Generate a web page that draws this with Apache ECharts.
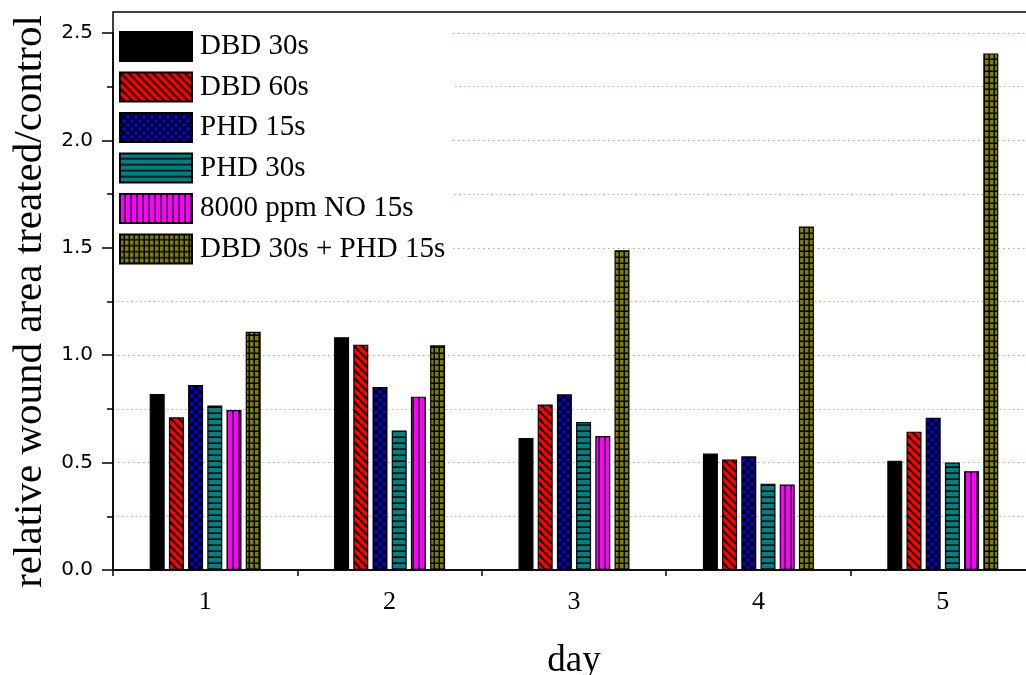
<!DOCTYPE html>
<html>
<head>
<meta charset="utf-8">
<script src="https://cdn.jsdelivr.net/npm/echarts@6/dist/echarts.min.js"></script>
<style>
  html, body { margin: 0; padding: 0; background: #fff; }
  #chart { width: 1026px; height: 675px; }
</style>
</head>
<body>
<div id="chart"></div>
<script>
// Days of measurement
const days = ['1', '2', '3', '4', '5'];

// Relative wound area (treated / control) per treatment
const dbd30 = [0.819, 1.084, 0.614, 0.542, 0.509];
const dbd60 = [0.711, 1.049, 0.771, 0.515, 0.644];
const phd15 = [0.861, 0.852, 0.818, 0.529, 0.709];
const phd30 = [0.766, 0.649, 0.689, 0.402, 0.500];
const no15 = [0.745, 0.807, 0.624, 0.398, 0.460];
const dbd30phd15 = [1.109, 1.046, 1.489, 1.599, 2.405];

const seriesNames = ['DBD 30s', 'DBD 60s', 'PHD 15s', 'PHD 30s', '8000 ppm NO 15s', 'DBD 30s + PHD 15s'];

// Hatch tiles used as bar fills
function tile(w, h, bg, draw) {
  const c = document.createElement('canvas');
  c.width = w; c.height = h;
  const g = c.getContext('2d');
  g.fillStyle = bg;
  g.fillRect(0, 0, w, h);
  g.strokeStyle = '#000';
  g.fillStyle = '#000';
  draw(g, w, h);
  return { image: c, repeat: 'repeat' };
}
function diag(g, s, dir) {
  for (let k = -1; k <= 1; k++) {
    g.beginPath();
    if (dir > 0) { g.moveTo(k * s, 0); g.lineTo(k * s + s, s); }
    else { g.moveTo(k * s + s, 0); g.lineTo(k * s, s); }
    g.stroke();
  }
}
const fills = [
  '#000000',
  tile(8, 8, '#ff0000', (g, w) => { g.lineWidth = 2; diag(g, w, 1); }),
  tile(8, 8, '#0000ff', (g, w) => { g.lineWidth = 2; diag(g, w, 1); diag(g, w, -1); }),
  tile(6, 6, '#008080', (g, w, h) => { g.fillRect(0, h - 1.6, w, 1.6); }),
  tile(6, 6, '#ff00ff', (g, w, h) => { g.fillRect(w - 1.5, 0, 1.5, h); }),
  tile(5, 6, '#808000', (g, w, h) => { g.fillRect(w - 1.5, 0, 1.5, h); g.fillRect(0, h - 1.5, w, 1.5); })
];
const values = [dbd30, dbd60, phd15, phd30, no15, dbd30phd15];

const serif = 'Liberation Serif';
const gridLine = { type: [1.5, 3.5], color: 'rgba(40,150,40,0.6)', width: 1 };

const chart = echarts.init(document.getElementById('chart'), null, { renderer: 'canvas' });

chart.setOption({
  animation: false,
  backgroundColor: '#fff',
  grid: [
    { left: 113, right: -9, top: 33, bottom: 105, containLabel: false, outerBoundsMode: 'none' },
    { left: 113, right: -9, top: 12, bottom: 105, containLabel: false, outerBoundsMode: 'none',
      show: true, borderColor: '#000', borderWidth: 1.5, backgroundColor: 'transparent' }
  ],
  legend: {
    orient: 'vertical',
    left: 114,
    top: 14,
    padding: [17, 8, 8, 5],
    backgroundColor: '#fff',
    itemWidth: 72,
    itemHeight: 29,
    itemGap: 9.5,
    icon: 'rect',
    z: 5,
    textStyle: { fontFamily: serif, fontSize: 29, color: '#000', padding: [0, 0, 0, 3] },
    data: seriesNames
  },
  xAxis: [
    {
      type: 'category',
      gridIndex: 0,
      data: days,
      axisLine: { lineStyle: { color: '#000', width: 1.5 } },
      axisTick: { alignWithLabel: true, length: 12, lineStyle: { color: '#000', width: 1.5 } },
      axisLabel: { fontFamily: serif, fontSize: 26, color: '#000', margin: 19 },
      splitLine: { show: false },
      name: 'day',
      nameLocation: 'middle',
      nameGap: 73,
      nameTextStyle: { fontFamily: serif, fontSize: 37, color: '#000' }
    },
    {
      type: 'value',
      gridIndex: 1,
      min: 0,
      max: 5,
      interval: 1,
      axisLine: { show: false },
      axisTick: { show: true, length: 6, lineStyle: { color: '#000', width: 1.5 } },
      axisLabel: { show: false },
      splitLine: { show: false }
    }
  ],
  yAxis: [
    {
      type: 'value',
      gridIndex: 0,
      min: 0,
      max: 2.5,
      interval: 0.5,
      axisLine: { show: true, lineStyle: { color: '#000', width: 1.5 } },
      axisTick: { show: true, length: 11, lineStyle: { color: '#000', width: 1.5 } },
      minorTick: { show: true, splitNumber: 2, length: 6, lineStyle: { color: '#000', width: 1.5 } },
      axisLabel: { fontFamily: 'DejaVu Sans', fontSize: 20, color: '#000', margin: 20, formatter: v => v.toFixed(1) },
      splitLine: { show: true, lineStyle: gridLine },
      minorSplitLine: { show: true, lineStyle: { type: [1.5, 3], color: 'rgba(40,150,40,0.5)', width: 1 } },
      name: 'relative wound area treated/control',
      nameLocation: 'middle',
      nameGap: 62,
      nameTextStyle: { fontFamily: serif, fontSize: 41, color: '#000' }
    },
    {
      type: 'value',
      gridIndex: 1,
      min: 0,
      max: 1,
      show: false
    }
  ],
  series: seriesNames.map((name, i) => ({
    name: name,
    type: 'bar',
    xAxisIndex: 0,
    yAxisIndex: 0,
    data: values[i],
    barWidth: 15,
    barGap: '28%',
    itemStyle: { color: fills[i], borderColor: '#000', borderWidth: 1.2 }
  }))
});
</script>
</body>
</html>
